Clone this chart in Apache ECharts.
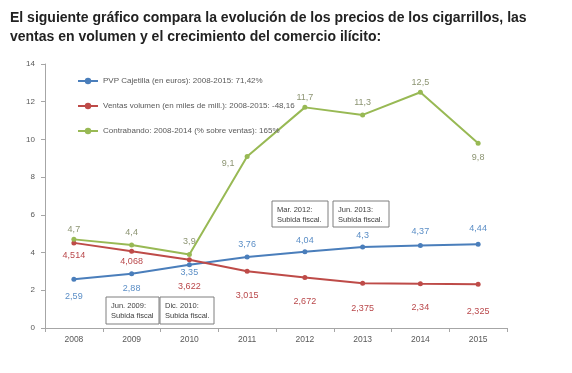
<!DOCTYPE html>
<html>
<head>
<meta charset="utf-8">
<script src="https://cdn.jsdelivr.net/npm/echarts@6/dist/echarts.min.js"></script>
<style>html,body{margin:0;padding:0;background:#fff}#c{width:572px;height:373px}</style>
</head>
<body>
<div id="c"></div>
<script>
var years = ['2008','2009','2010','2011','2012','2013','2014','2015'];
var pvp = [2.59, 2.88, 3.35, 3.76, 4.04, 4.3, 4.37, 4.44];
var ventas = [4.514, 4.068, 3.622, 3.015, 2.672, 2.375, 2.34, 2.325];
var contrabando = [4.7, 4.4, 3.9, 9.1, 11.7, 11.3, 12.5, 9.8];
var seriesNames = [
  'PVP Cajetilla (en euros): 2008-2015: 71,42%',
  'Ventas volumen (en miles de mill.): 2008-2015: -48,16',
  'Contrabando: 2008-2014 (% sobre ventas): 165%'
];
var yTicks = [0, 2, 4, 6, 8, 10, 12, 14];
var notes = ['Jun. 2009:\nSubida fiscal', 'Dic. 2010:\nSubida fiscal.', 'Mar. 2012:\nSubida fiscal.', 'Jun. 2013:\nSubida fiscal.'];

var FONT = 'Liberation Sans';
// label offsets (pixels from the point) – layout only
var offPvp = [[0,17],[0,15],[0,8],[0,-13],[0,-11],[0,-11],[0,-14],[0,-16]];
var offVen = [[0,13],[0,10],[0,27],[0,24],[0,24],[0,25],[0,24],[0,27]];
var offCon = [[0,-10],[0,-13],[0,-13],[-19,7],[0,-10],[0,-12],[0,-10],[0,14]];

function fmt(v){ return String(v).replace('.', ','); }
function build(vals, offs){
  return vals.map(function(v,i){
    return {value: v, label: {offset: offs[i]}};
  });
}
function mkSeries(name, vals, offs, color, lblColor){
  return {
    name: name, type: 'line', data: build(vals, offs),
    symbol: 'circle', symbolSize: 5,
    lineStyle: {color: color, width: 2},
    itemStyle: {color: color},
    label: {show: true, position: 'inside', color: lblColor, fontSize: 9, fontFamily: FONT,
      formatter: function(p){ return fmt(p.value); }},
    emphasis: {disabled: true}, animation: false
  };
}

var boxes = [
  {x:106, y:297, w:53, h:27, t:notes[0]},
  {x:160, y:297, w:54, h:27, t:notes[1]},
  {x:272, y:201, w:56, h:26, t:notes[2]},
  {x:333, y:201, w:56, h:26, t:notes[3]}
];
var graphic = boxes.map(function(b){
  return {type:'group', x:b.x, y:b.y, children:[
    {type:'rect', shape:{x:0,y:0,width:b.w,height:b.h}, style:{fill:'#fff', stroke:'#7f7f7f', lineWidth:1}},
    {type:'text', x:5, y:4, style:{text:b.t, fontSize:7.5, lineHeight:10, fill:'#404040', fontFamily:FONT}}
  ]};
});

var chart = echarts.init(document.getElementById('c'));
chart.setOption({
  animation: false,
  title: {
    text: 'El siguiente gráfico compara la evolución de los precios de los cigarrillos, las\nventas en volumen y el crecimiento del comercio ilícito:',
    left: 5, top: 4,
    textStyle: {fontSize: 14, fontWeight: 'bold', color: '#222', lineHeight: 19, fontFamily: FONT}
  },
  legend: {
    orient: 'vertical', left: 72, top: 72, itemGap: 17, itemWidth: 20, itemHeight: 8,
    textStyle: {fontSize: 8, color: '#595959', fontFamily: FONT},
    data: seriesNames
  },
  grid: {left: 45, right: 65, top: 64, bottom: 45},
  xAxis: {
    type: 'category', data: years, boundaryGap: true,
    axisLine: {lineStyle: {color: '#a6a6a6'}},
    axisTick: {show: true, interval: 0, length: 4, lineStyle: {color: '#a6a6a6'}},
    axisLabel: {fontSize: 8.5, color: '#595959', fontFamily: FONT, margin: 7}
  },
  yAxis: {
    type: 'value', min: yTicks[0], max: yTicks[yTicks.length-1], interval: 2,
    axisLine: {show: true, lineStyle: {color: '#a6a6a6'}},
    axisTick: {show: true, length: 4, lineStyle: {color: '#a6a6a6'}},
    splitLine: {show: false},
    axisLabel: {fontSize: 8, color: '#595959', fontFamily: FONT, margin: 10}
  },
  graphic: graphic,
  series: [
    mkSeries(seriesNames[0], pvp, offPvp, '#4a7ebb', '#5b8ec6'),
    mkSeries(seriesNames[1], ventas, offVen, '#be4b48', '#b9474a'),
    mkSeries(seriesNames[2], contrabando, offCon, '#98b954', '#8c9472')
  ]
});
</script>
</body>
</html>
